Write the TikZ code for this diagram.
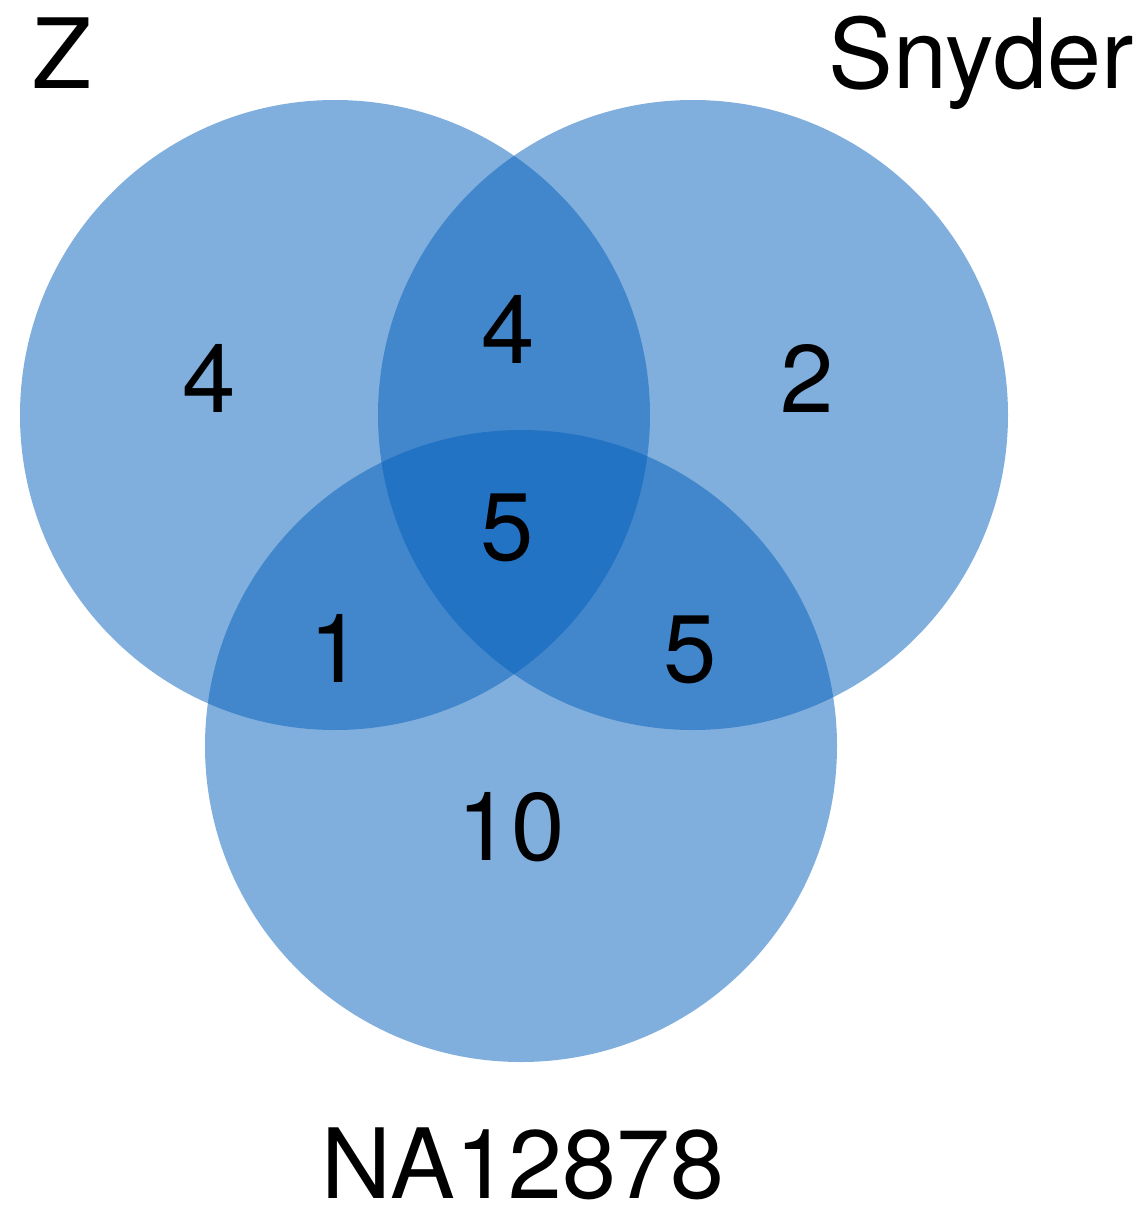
\documentclass[tikz,border=0pt]{standalone}
\usepackage{fontspec}
\setmainfont{TeX Gyre Heros}
\definecolor{vennblue}{RGB}{5,97,189}
\begin{document}
\begin{tikzpicture}[x=1pt,y=-1pt,
  setcircle/.style={fill=vennblue,fill opacity=0.5,draw=none},
  setlabel/.style={inner sep=0pt,font=\fontsize{97}{116}\selectfont,text=black},
  countlabel/.style={inner sep=0pt,anchor=base,font=\fontsize{96}{115}\selectfont,text=black}]
\useasboundingbox (0,0) rectangle (1145,1205);
\fill[white] (0,0) rectangle (1145,1205);
\path[setcircle] (335,415) circle[radius=315];
\path[setcircle] (693,415) circle[radius=315];
\path[setcircle] (521,746) circle[radius=316];
\node[setlabel,anchor=base] (zlab) at (62,88) {Z};
\node[setlabel,anchor=base east] (snyderlab) at (1134,88) {Snyder};
\node[setlabel,anchor=base] (nalab) at (523,1198) {NA12878};
\node[countlabel] (zonly) at (209,412) {4};
\node[countlabel] (zs) at (508,363) {4};
\node[countlabel] (sonly) at (807,412) {2};
\node[countlabel] (zsn) at (507,560) {5};
\node[countlabel] (zn) at (336,682) {1};
\node[countlabel] (sn) at (690,682) {5};
\node[countlabel] (nonly) at (511,860) {10};
\end{tikzpicture}
\end{document}
